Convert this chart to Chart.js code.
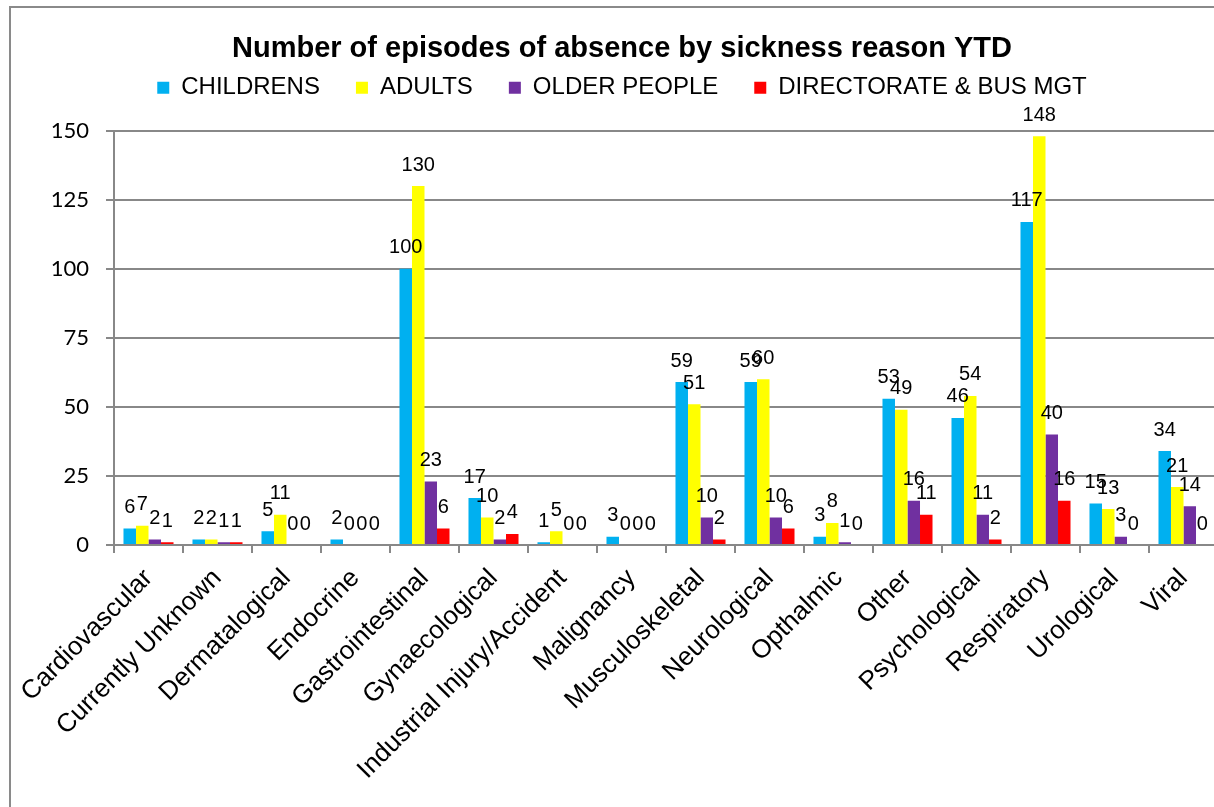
<!DOCTYPE html>
<html>
<head>
<meta charset="utf-8">
<script src="https://cdn.jsdelivr.net/npm/chart.js@4.4.1/dist/chart.umd.min.js"></script>
<style>
  html, body { margin: 0; padding: 0; background: #fff; overflow: hidden; width: 1214px; height: 807px; }
  #frame { position: absolute; left: 9px; top: 6px; width: 1300px; height: 900px; border: 2px solid #8a8a8a; box-sizing: border-box; }
  #wrap { position: absolute; left: 0; top: 0; width: 1234px; height: 807px; }
</style>
</head>
<body>
<div id="frame"></div>
<div id="wrap"><canvas id="chart" width="1234" height="807"></canvas></div>
<script>
// Sickness absence episodes, year to date, by reason and service area
const categories = [
  'Cardiovascular', 'Currently Unknown', 'Dermatalogical', 'Endocrine',
  'Gastrointestinal', 'Gynaecological', 'Industrial Injury/Accident', 'Malignancy',
  'Musculoskeletal', 'Neurological', 'Opthalmic', 'Other',
  'Psychological', 'Respiratory', 'Urological', 'Viral'
];
const seriesNames = ['CHILDRENS', 'ADULTS', 'OLDER PEOPLE', 'DIRECTORATE & BUS MGT'];
const childrens   = [6, 2, 5, 2, 100, 17, 1, 3, 59, 59, 3, 53, 46, 117, 15, 34];
const adults      = [7, 2, 11, 0, 130, 10, 5, 0, 51, 60, 8, 49, 54, 148, 13, 21];
const olderPeople = [2, 1, 0, 0, 23, 2, 0, 0, 10, 10, 1, 16, 11, 40, 3, 14];
const directorate = [1, 1, 0, 0, 6, 4, 0, 0, 2, 6, 0, 11, 2, 16, 0, 0];
const yTicks = [0, 25, 50, 75, 100, 125, 150];

const SANS = '"Liberation Sans", Arial, sans-serif';
const GRID = '#888888';

// Value printed above every bar
const valueLabels = {
  id: 'valueLabels',
  afterDatasetsDraw(chart) {
    const c = chart.ctx;
    c.save();
    c.font = '20px ' + SANS;
    c.fillStyle = '#000';
    c.textAlign = 'center';
    c.textBaseline = 'middle';
    chart.data.datasets.forEach((ds, i) => {
      chart.getDatasetMeta(i).data.forEach((bar, j) => {
        c.fillText(String(ds.data[j]), bar.x, bar.y - 21);
      });
    });
    c.restore();
  }
};

new Chart(document.getElementById('chart'), {
  type: 'bar',
  data: {
    labels: categories,
    datasets: [
      { label: seriesNames[0], data: childrens,   backgroundColor: '#00B0F0' },
      { label: seriesNames[1], data: adults,      backgroundColor: '#FFFF00' },
      { label: seriesNames[2], data: olderPeople, backgroundColor: '#7030A0' },
      { label: seriesNames[3], data: directorate, backgroundColor: '#FF0000' }
    ]
  },
  options: {
    responsive: false,
    animation: false,
    devicePixelRatio: 1,
    layout: { padding: { left: 10, right: 0, top: 0, bottom: 0 } },
    datasets: { bar: { categoryPercentage: 0.725, barPercentage: 1 } },
    plugins: {
      title: {
        display: true,
        text: 'Number of episodes of absence by sickness reason YTD',
        color: '#000',
        font: { family: SANS, size: 29, weight: 'bold' },
        padding: { top: 32, bottom: -27 }
      },
      legend: {
        position: 'top',
        labels: {
          boxWidth: 12, boxHeight: 12, padding: 36, color: '#000',
          font: { family: SANS, size: 24 }
        }
      },
      tooltip: { enabled: false }
    },
    scales: {
      x: {
        offset: true,
        grid: { display: true, drawOnChartArea: false, drawTicks: true, tickLength: 8, color: GRID, lineWidth: 2, offset: true },
        border: { color: GRID, width: 2 },
        ticks: { color: '#000', font: { family: SANS, size: 26 }, minRotation: 45, maxRotation: 45, autoSkip: false, padding: 10 },
        afterFit: s => { s.height = 262; }
      },
      xTop: {
        type: 'category', axis: 'x', position: 'top', display: true,
        grid: { display: false }, border: { display: false }, ticks: { display: false },
        afterFit: s => { s.height = 21; }
      },
      y: {
        min: 0, max: 150,
        grid: { color: GRID, lineWidth: 2, tickLength: 8 },
        border: { color: GRID, width: 2 },
        ticks: { color: '#000', font: { family: 'Lato', size: 22 }, padding: 17 },
        afterBuildTicks: s => { s.ticks = yTicks.map(v => ({ value: v })); },
        afterFit: s => { s.width = 104; }
      },
      yRight: {
        type: 'linear', axis: 'y', position: 'right', display: true,
        grid: { display: false }, border: { display: false }, ticks: { display: false },
        afterFit: s => { s.width = 16; }
      }
    }
  },
  plugins: [valueLabels]
});
</script>
</body>
</html>
